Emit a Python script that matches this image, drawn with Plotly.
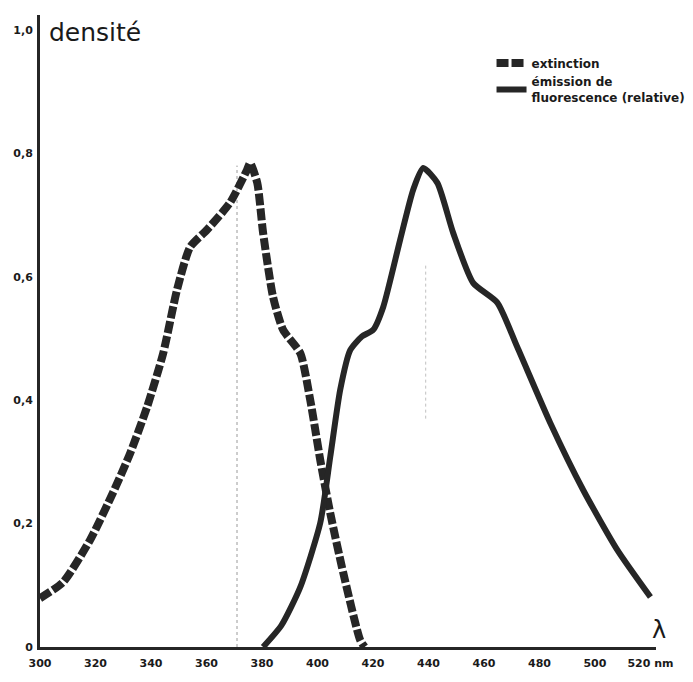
import plotly.graph_objects as go

# Extinction (absorption) spectrum, dashed
ext_nm = [300.0, 308.3, 318.0, 326.3, 332.5, 338.6, 344.4, 349.4, 354.1, 360.2, 368.5,
          374.6, 375.7, 378.3, 380.4, 384.0, 387.6, 393.8, 397.4, 401.0, 404.6, 409.3,
          415.4, 417.0]
ext_val = [0.079, 0.105, 0.173, 0.250, 0.314, 0.389, 0.476, 0.579, 0.648, 0.676, 0.720,
           0.773, 0.784, 0.752, 0.671, 0.567, 0.514, 0.476, 0.400, 0.303, 0.217, 0.120,
           0.011, 0.0]

# Fluorescence emission (relative), solid
em_nm = [380.4, 387.0, 393.8, 401.0, 404.6, 408.2, 411.8, 416.0, 420.1, 423.7, 429.8,
         434.5, 438.1, 443.2, 448.9, 456.1, 464.8, 472.0, 483.9, 495.8, 508.1, 520.0]
em_val = [0.0, 0.035, 0.097, 0.201, 0.308, 0.417, 0.481, 0.503, 0.514, 0.551, 0.660,
          0.741, 0.776, 0.752, 0.671, 0.590, 0.558, 0.486, 0.363, 0.254, 0.157, 0.081]

# faint dotted guide lines (peak markers)
guide1_nm = [371, 371]
guide1_val = [0.0, 0.78]
guide2_nm = [439, 439]
guide2_val = [0.37, 0.62]

x_ticks = [300, 320, 340, 360, 380, 400, 420, 440, 460, 480, 500, 520]
x_ticktext = ["300", "320", "340", "360", "380", "400", "420", "440", "460", "480", "500", "520 nm"]
y_ticks = [0, 0.2, 0.4, 0.6, 0.8, 1.0]
y_ticktext = ["0", "0,2", "0,4", "0,6", "0,8", "1,0"]

INK = "#262626"
TICKFONT = dict(size=11, family="DejaVu Sans", weight="bold", color="#1a1a1a")

fig = go.Figure()
fig.add_trace(go.Scatter(x=guide1_nm, y=guide1_val, mode="lines", showlegend=False,
                         line=dict(color="#9a9a9a", width=1, dash="dot"), hoverinfo="skip"))
fig.add_trace(go.Scatter(x=guide2_nm, y=guide2_val, mode="lines", showlegend=False,
                         line=dict(color="#c0c0c0", width=1, dash="dot"), hoverinfo="skip"))
fig.add_trace(go.Scatter(x=ext_nm, y=ext_val, mode="lines", name="<b>extinction</b>",
                         line=dict(color=INK, width=8, dash="12px,3px", shape="spline", smoothing=0.6)))
fig.add_trace(go.Scatter(x=em_nm, y=em_val, mode="lines",
                         name="<b>émission de<br>fluorescence (relative)</b>",
                         line=dict(color=INK, width=6, shape="spline", smoothing=0.6)))

fig.update_layout(
    width=693, height=682,
    margin=dict(l=32, r=45, t=7, b=43),
    paper_bgcolor="white", plot_bgcolor="white",
    font=dict(family="DejaVu Sans, Liberation Sans, sans-serif", color="#1a1a1a"),
    showlegend=True,
    legend=dict(x=0.733, y=0.947, xanchor="left", yanchor="top",
                bgcolor="rgba(0,0,0,0)", font=dict(size=12, color="#1a1a1a"),
                tracegroupgap=0, itemwidth=30),
    xaxis=dict(range=[300, 522], tickvals=x_ticks, ticktext=x_ticktext, automargin=False,
               showgrid=False, zeroline=False, showline=True, linecolor=INK, linewidth=3,
               ticks="", tickfont=TICKFONT, ticklabelstandoff=4),
    yaxis=dict(range=[0, 1.024], tickvals=y_ticks, ticktext=y_ticktext, automargin=False,
               showgrid=False, zeroline=False, showline=True, linecolor=INK, linewidth=3,
               ticks="", tickfont=TICKFONT, ticklabelstandoff=2),
)

fig.add_annotation(text="densité", xref="paper", yref="paper", x=0.012, y=0.972,
                   xanchor="left", yanchor="middle", showarrow=False,
                   font=dict(size=25, family="DejaVu Sans", color="#1a1a1a"))
fig.add_annotation(text="λ", xref="paper", yref="paper", x=0.99, y=0.027,
                   xanchor="left", yanchor="middle", showarrow=False,
                   font=dict(size=24, family="DejaVu Sans", color="#1a1a1a"))

fig.write_html("out.html")
